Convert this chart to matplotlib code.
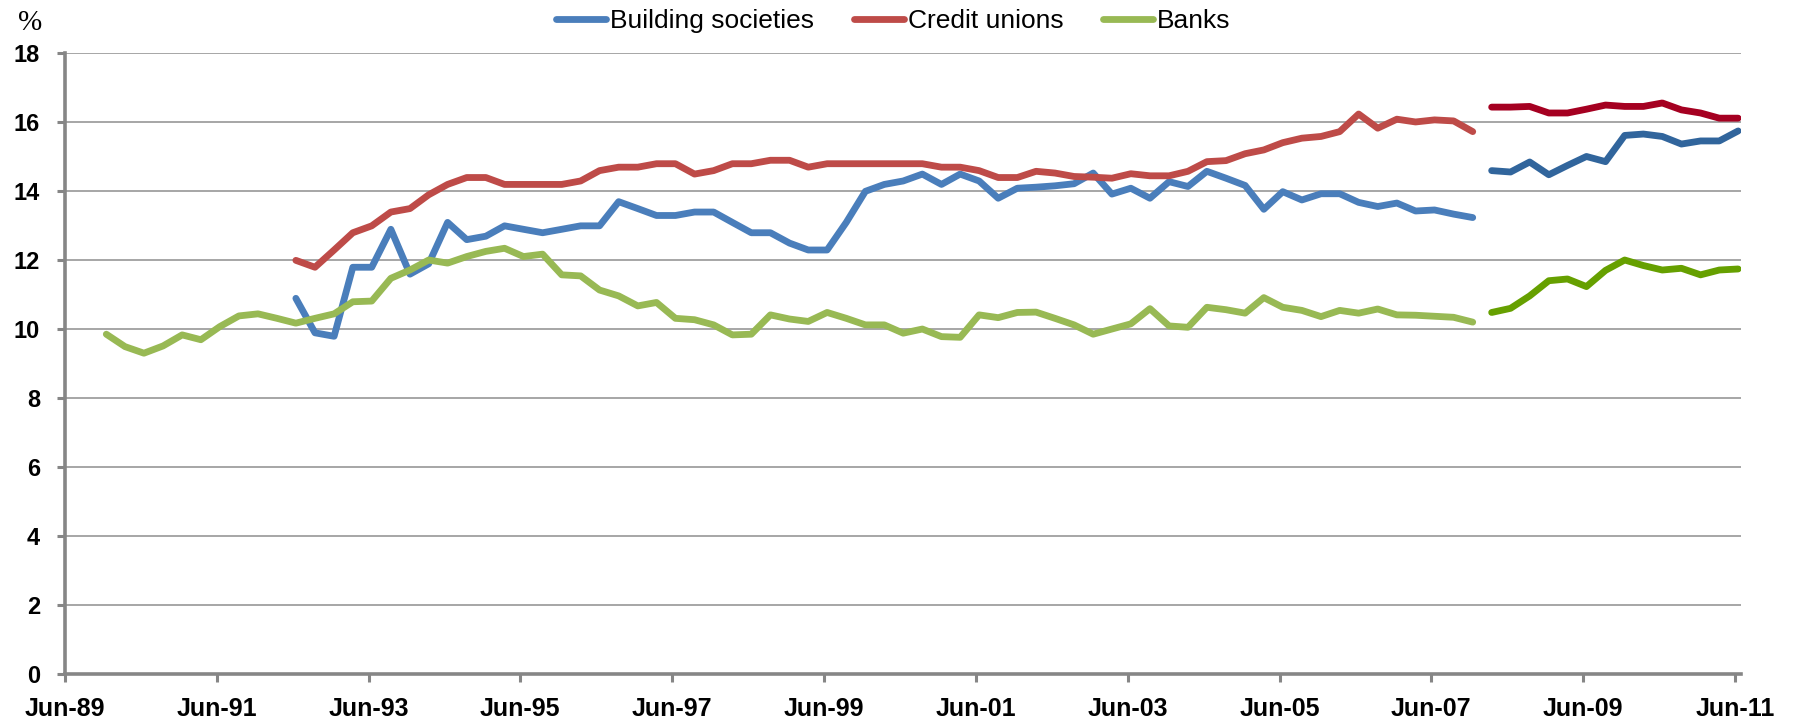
import numpy as np
import pandas as pd
import matplotlib.pyplot as plt

# quarterly ratios, first run Dec-89 .. Dec-07, second run Mar-08 .. Jun-11
banks = [9.86, 9.50, 9.31, 9.52, 9.84, 9.70, 10.08, 10.39, 10.45, 10.32,
         10.18, 10.32, 10.45, 10.80, 10.82, 11.48, 11.72, 12.01, 11.92, 12.11,
         12.26, 12.35, 12.11, 12.18, 11.58, 11.55, 11.14, 10.97, 10.68, 10.78,
         10.32, 10.28, 10.13, 9.84, 9.86, 10.42, 10.30, 10.23, 10.49, 10.32,
         10.13, 10.13, 9.89, 10.01, 9.79, 9.77, 10.42, 10.34, 10.49, 10.50,
         10.32, 10.13, 9.86, 10.01, 10.16, 10.60, 10.10, 10.06, 10.64, 10.57,
         10.47, 10.92, 10.64, 10.55, 10.37, 10.55, 10.47, 10.59, 10.42, 10.41,
         10.38, 10.35, 10.21]
credit = [12.0, 11.8, 12.3, 12.8, 13.0, 13.4, 13.5, 13.9, 14.2, 14.4,
          14.4, 14.2, 14.2, 14.2, 14.2, 14.3, 14.6, 14.7, 14.7, 14.8,
          14.8, 14.5, 14.6, 14.8, 14.8, 14.9, 14.9, 14.7, 14.8, 14.8,
          14.8, 14.8, 14.8, 14.8, 14.7, 14.7, 14.6, 14.4, 14.4, 14.58,
          14.53, 14.43, 14.41, 14.38, 14.51, 14.45, 14.45, 14.58, 14.86, 14.89,
          15.09, 15.20, 15.41, 15.54, 15.59, 15.73, 16.24, 15.83, 16.09, 16.01,
          16.07, 16.04, 15.73]
building = [10.9, 9.9, 9.8, 11.8, 11.8, 12.9, 11.6, 11.9, 13.1, 12.6,
            12.7, 13.0, 12.9, 12.8, 12.9, 13.0, 13.0, 13.7, 13.5, 13.3,
            13.3, 13.4, 13.4, 13.1, 12.8, 12.8, 12.5, 12.3, 12.3, 13.1,
            14.0, 14.2, 14.3, 14.5, 14.2, 14.5, 14.3, 13.8, 14.09, 14.12,
            14.16, 14.22, 14.53, 13.92, 14.09, 13.80, 14.28, 14.14, 14.58, 14.38,
            14.17, 13.48, 13.99, 13.75, 13.93, 13.93, 13.68, 13.56, 13.66, 13.43,
            13.46, 13.34, 13.24]

banks2 = [10.49, 10.61, 10.97, 11.41, 11.46, 11.24, 11.71, 12.01, 11.85, 11.72,
          11.77, 11.58, 11.72, 11.75]
credit2 = [16.44, 16.44, 16.46, 16.27, 16.27, 16.38, 16.50, 16.46, 16.46, 16.56,
           16.36, 16.27, 16.12, 16.12]
building2 = [14.60, 14.56, 14.85, 14.48, 14.75, 15.01, 14.86, 15.62, 15.66, 15.59,
             15.37, 15.46, 15.46, 15.75]

d_banks = pd.date_range('1989-12-31', periods=len(banks), freq='QE')
d_credit = pd.date_range('1992-06-30', periods=len(credit), freq='QE')
d_build = pd.date_range('1992-06-30', periods=len(building), freq='QE')
d_second = pd.date_range('2008-03-31', periods=len(banks2), freq='QE')

tick_years = list(range(1989, 2012, 2))
tick_dates = [pd.Timestamp(f'{y}-06-15') for y in tick_years]
tick_labels = [f'Jun-{y % 100:02d}' for y in tick_years]

fig = plt.figure(figsize=(17.94, 7.23), dpi=100)
ax = fig.add_axes([0.0362, 0.0671, 0.9343, 0.8592])

lw = 4.9
style = dict(lw=lw, solid_capstyle='round', solid_joinstyle='round', zorder=3)
ax.plot(d_build, building, color='#4A7EBB', label='Building societies', **style)
ax.plot(d_credit, credit, color='#BE4B48', label='Credit unions', **style)
ax.plot(d_banks, banks, color='#98B954', label='Banks', **style)

# series after the break
ax.plot(d_second, building2, color='#31659C', **style)
ax.plot(d_second, credit2, color='#A50021', **style)
ax.plot(d_second, banks2, color='#66A000', **style)

ax.set_ylim(0, 18)
ax.set_xlim(pd.Timestamp('1989-06-15'), pd.Timestamp('2011-07-14'))
ax.set_yticks(np.arange(0, 19, 2))
ax.set_xticks(tick_dates)
ax.set_xticklabels(tick_labels)

ax.grid(axis='y', color='#A6A6A6', lw=1.4)
ax.set_axisbelow(True)
for s in ['top', 'right']:
    ax.spines[s].set_visible(False)
for s in ['left', 'bottom']:
    ax.spines[s].set_color('#868686')
    ax.spines[s].set_linewidth(2.6)

ax.tick_params(axis='both', direction='out', color='#868686', width=2.2, length=6)
ax.tick_params(axis='y', pad=12)
ax.tick_params(axis='x', pad=10)
for t in ax.get_yticklabels():
    t.set_fontfamily('Liberation Sans')
    t.set_fontweight('bold')
    t.set_fontsize(17)
for t in ax.get_xticklabels():
    t.set_fontfamily('Liberation Sans')
    t.set_fontweight('bold')
    t.set_fontsize(18)

fig.text(0.0167, 0.968, '%', fontfamily='Liberation Serif', fontsize=21,
         ha='center', va='center')

fig.legend(loc='center', bbox_to_anchor=(0.498, 0.971), ncol=3, frameon=False,
           prop={'family': 'Liberation Sans', 'size': 19}, handlelength=1.9,
           handletextpad=0.15, columnspacing=1.5)

fig.savefig('out.png', dpi=100)
